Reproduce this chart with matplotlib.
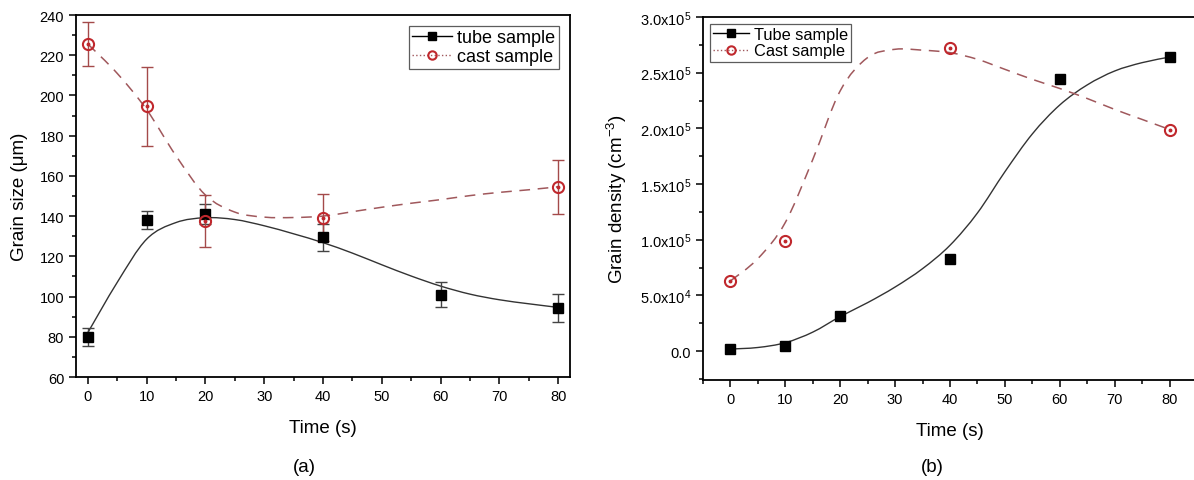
import numpy as np
import matplotlib
matplotlib.use("Agg")
import matplotlib.pyplot as plt
from matplotlib.path import Path
from matplotlib.patches import PathPatch
from matplotlib.lines import Line2D
from matplotlib.ticker import MultipleLocator, FuncFormatter

plt.rcParams['font.family'] = ['Liberation Sans', 'DejaVu Sans']
plt.rcParams['mathtext.fontset'] = 'custom'
plt.rcParams['mathtext.rm'] = 'Liberation Sans'
plt.rcParams['mathtext.default'] = 'regular'

# ---------------- data: panel (a) ----------------
time_a = [0, 10, 20, 40, 60, 80]
tube_size = [80, 138, 141, 129.5, 101, 94.5]
tube_size_err = [4.5, 4.6, 5, 6.7, 6, 7]
time_cast_a = [0, 10, 20, 40, 80]
cast_size = [225.6, 194.6, 137.5, 139.2, 154.6]
cast_size_err = [11, 19.5, 13, 11.7, 13.5]

# smooth curves (every 5 s)
curve_t = [0, 5, 10, 15, 20, 25, 30, 35, 40, 45, 50, 55, 60, 65, 70, 75, 80]
tube_size_curve = [82, 107, 128.5, 136.8, 139.2, 138.3, 135.2, 131.2, 126.8, 121.6,
                   115.8, 110.2, 105.2, 101.2, 98.4, 96.4, 94.6]
cast_size_curve = [225.6, 211, 193, 170, 150.5, 142, 139.5, 139.3, 140, 142.2,
                   144.4, 146.4, 148.2, 150.2, 151.8, 153.1, 154.6]

# ---------------- data: panel (b) ----------------
time_b = [0, 10, 20, 40, 60, 80]
tube_density = [1.8e3, 4.5e3, 3.17e4, 8.26e4, 2.44e5, 2.64e5]
time_cast_b = [0, 10, 40, 80]
cast_density = [6.3e4, 9.9e4, 2.72e5, 1.984e5]

tube_density_curve = [1.8e3, 3.2e3, 7.5e3, 1.7e4, 3.1e4, 4.35e4, 5.75e4, 7.4e4,
                      9.5e4, 1.24e5, 1.61e5, 1.95e5, 2.21e5, 2.39e5,
                      2.515e5, 2.59e5, 2.64e5]
cast_density_curve = [6.3e4, 8.3e4, 1.155e5, 1.72e5, 2.337e5, 2.636e5, 2.71e5,
                      2.702e5, 2.68e5, 2.62e5, 2.53e5, 2.44e5, 2.358e5,
                      2.268e5, 2.17e5, 2.08e5, 1.99e5]

BLACK = '#000000'
RED = '#c0282d'
RED_LINE = '#a0585c'
RED_ERR = '#a44a4a'


def smooth_path(ax, xs, ys, **kw):
    """Catmull-Rom curve through the given points, drawn as Bezier path."""
    pts = ax.transData.transform(np.column_stack([xs, ys]))
    pts = np.asarray(pts)
    verts = [pts[0]]
    codes = [Path.MOVETO]
    n = len(pts)
    for i in range(n - 1):
        p0 = pts[i - 1] if i > 0 else pts[i]
        p1 = pts[i]
        p2 = pts[i + 1]
        p3 = pts[i + 2] if i + 2 < n else pts[i + 1]
        c1 = p1 + (p2 - p0) / 6.0
        c2 = p2 - (p3 - p1) / 6.0
        verts += [c1, c2, p2]
        codes += [Path.CURVE4] * 3
    inv = ax.transData.inverted()
    verts = inv.transform(np.array(verts))
    patch = PathPatch(Path(verts, codes), fill=False, **kw)
    ax.add_patch(patch)


def style_axes(ax):
    for s in ax.spines.values():
        s.set_linewidth(1.3)
    ax.tick_params(which='both', direction='out', top=False, right=False,
                   labelsize=10.5, width=1.1)
    ax.tick_params(which='major', length=5)
    ax.tick_params(which='minor', length=3)


W, H = 1194, 481
fig = plt.figure(figsize=(W / 100, H / 100), dpi=100)

# ---------------- panel (a) ----------------
axa = fig.add_axes([76 / W, 1 - 378 / H, 494 / W, 362 / H])
axa.set_xlim(-2, 82)
axa.set_ylim(60, 240)
axa.xaxis.set_major_locator(MultipleLocator(10))
axa.xaxis.set_minor_locator(MultipleLocator(5))
axa.yaxis.set_major_locator(MultipleLocator(20))
axa.yaxis.set_minor_locator(MultipleLocator(10))
style_axes(axa)

smooth_path(axa, curve_t, tube_size_curve, edgecolor='#333333', linewidth=1.0, zorder=2)
smooth_path(axa, curve_t, cast_size_curve, edgecolor=RED_LINE, linewidth=1.1,
            linestyle=(0, (7, 5)), zorder=2)

axa.errorbar(time_a, tube_size, yerr=tube_size_err, fmt='none', ecolor='#444444',
             elinewidth=1.0, capsize=4, capthick=1.0, zorder=3)
axa.errorbar(time_cast_a, cast_size, yerr=cast_size_err, fmt='none', ecolor=RED_ERR,
             elinewidth=1.0, capsize=4, capthick=1.0, zorder=3)
axa.plot(time_a, tube_size, 's', color=BLACK, markersize=7.5, zorder=4)
axa.plot(time_cast_a, cast_size, 'o', mfc='none', mec=RED, mew=1.5, markersize=8, zorder=5)
axa.plot(time_cast_a, cast_size, 'o', color=RED, markersize=1.8, zorder=6)

axa.set_xlabel('Time (s)', fontsize=13.5, labelpad=12)
axa.set_ylabel('Grain size (\u03bcm)', fontsize=13.5, labelpad=8)

h_tube = Line2D([], [], color=BLACK, lw=1.0, marker='s', markersize=5.5)
h_cast = Line2D([], [], color=RED_LINE, lw=1.0, ls=':', marker='o', mfc='none',
                mec=RED, mew=1.5, markersize=6)
leg = axa.legend([h_tube, h_cast], ['tube sample', 'cast sample'], loc='upper right',
                 fontsize=13, frameon=True, fancybox=False, edgecolor='#333333',
                 borderpad=0.2, handlelength=2.2, handletextpad=0.3, labelspacing=0.1,
                 borderaxespad=0.6)
leg.get_frame().set_linewidth(0.9)

# ---------------- panel (b) ----------------
axb = fig.add_axes([703 / W, 1 - 381 / H, 494 / W, 363 / H])
axb.set_xlim(-5, 85)
axb.set_ylim(-2.6e4, 3.0e5)
axb.xaxis.set_major_locator(MultipleLocator(10))
axb.xaxis.set_minor_locator(MultipleLocator(5))
axb.yaxis.set_major_locator(MultipleLocator(5e4))
axb.yaxis.set_minor_locator(MultipleLocator(2.5e4))
axb.spines['right'].set_visible(False)
style_axes(axb)


def sci_fmt(v, pos):
    if abs(v) < 1:
        return '0.0'
    e = int(np.floor(np.log10(abs(v))))
    m = v / 10 ** e
    return r'%.1fx10$^{%d}$' % (m, e)


axb.yaxis.set_major_formatter(FuncFormatter(sci_fmt))

smooth_path(axb, curve_t, tube_density_curve, edgecolor='#333333', linewidth=1.0, zorder=2)
smooth_path(axb, curve_t, cast_density_curve, edgecolor=RED_LINE, linewidth=1.1,
            linestyle=(0, (7, 5)), zorder=2)
axb.plot(time_b, tube_density, 's', color=BLACK, markersize=7.5, zorder=4)
axb.plot(time_cast_b, cast_density, 'o', mfc='none', mec=RED, mew=1.5, markersize=8, zorder=5)
axb.plot(time_cast_b, cast_density, 'o', color=RED, markersize=1.8, zorder=6)

axb.set_xlabel('Time (s)', fontsize=13.5, labelpad=12)
axb.set_ylabel('Grain density (cm$^{-3}$)', fontsize=13.5, labelpad=8)

h_tube2 = Line2D([], [], color=BLACK, lw=1.0, marker='s', markersize=5.5)
h_cast2 = Line2D([], [], color=RED_LINE, lw=1.0, ls=':', marker='o', mfc='none',
                 mec=RED, mew=1.5, markersize=6)
leg2 = axb.legend([h_tube2, h_cast2], ['Tube sample', 'Cast sample'], loc='upper left',
                  fontsize=11.8, frameon=True, fancybox=False, edgecolor='#333333',
                  borderpad=0.2, handlelength=2.2, handletextpad=0.3, labelspacing=0.1,
                  borderaxespad=0.4)
leg2.get_frame().set_linewidth(0.9)

fig.text(304 / W, 1 - 468 / H, '(a)', fontsize=13.5, ha='center', va='center')
fig.text(932 / W, 1 - 468 / H, '(b)', fontsize=13.5, ha='center', va='center')

fig.savefig('out.png', dpi=100)
